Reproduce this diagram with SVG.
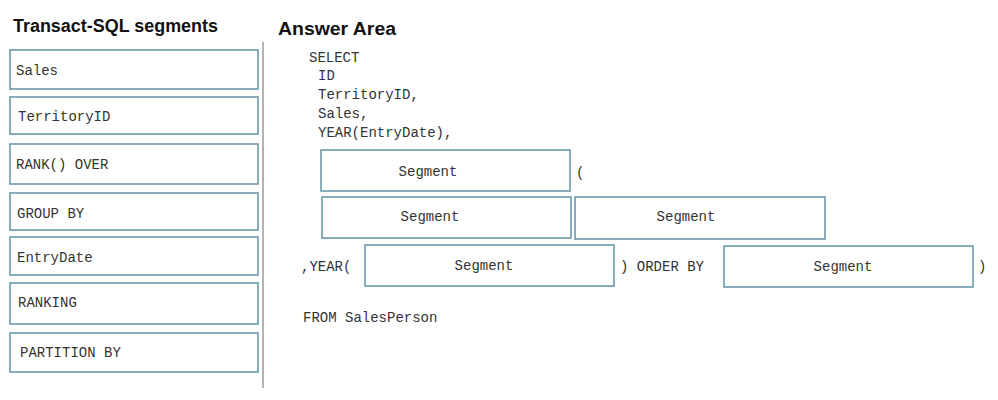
<svg xmlns="http://www.w3.org/2000/svg" width="998" height="400" viewBox="0 0 998 400">
<style>
.box{fill:#ffffff;stroke:#6b9aab;stroke-width:1.6}
.code{font-family:"Liberation Mono","Courier New",monospace;font-size:14px;fill:#333333}
.seg{font-family:"Liberation Mono","Courier New",monospace;font-size:14px;fill:#333333;text-anchor:middle}
.title{font-family:"Liberation Sans",Arial,sans-serif;font-size:18px;font-weight:bold;fill:#111111}
</style>
<rect width="998" height="400" fill="#ffffff"/>
<text class="title" x="13" y="32" textLength="205" lengthAdjust="spacingAndGlyphs">Transact-SQL segments</text>
<text class="title" x="278" y="35" textLength="118" lengthAdjust="spacingAndGlyphs">Answer Area</text>
<line x1="263" y1="42" x2="263" y2="388" stroke="#b4b4b4" stroke-width="2"/>
<g id="src-sales"><rect class="box" x="10" y="50" width="248" height="39"/><text class="code" x="16" y="75">Sales</text></g>
<g id="src-territoryid"><rect class="box" x="10" y="97" width="248" height="37"/><text class="code" x="18" y="121">TerritoryID</text></g>
<g id="src-rank"><rect class="box" x="10" y="144" width="248" height="40"/><text class="code" x="16" y="169">RANK() OVER</text></g>
<g id="src-groupby"><rect class="box" x="10" y="193" width="248" height="37"/><text class="code" x="17" y="218">GROUP BY</text></g>
<g id="src-entrydate"><rect class="box" x="10" y="237" width="248" height="38"/><text class="code" x="17" y="262">EntryDate</text></g>
<g id="src-ranking"><rect class="box" x="10" y="283" width="248" height="41"/><text class="code" x="18" y="307">RANKING</text></g>
<g id="src-partitionby"><rect class="box" x="10" y="333" width="248" height="39"/><text class="code" x="20" y="357">PARTITION BY</text></g>
<g id="query">
<text class="code" x="309" y="62">SELECT</text>
<text class="code" x="318" y="80">ID</text>
<text class="code" x="318" y="99">TerritoryID,</text>
<text class="code" x="318" y="118">Sales,</text>
<text class="code" x="318" y="137">YEAR(EntryDate),</text>
<text class="code" x="576" y="177">(</text>
<text class="code" x="301" y="271">,YEAR(</text>
<text class="code" x="620" y="271">) ORDER BY</text>
<text class="code" x="978" y="271">)</text>
<text class="code" x="303" y="322">FROM SalesPerson</text>
</g>
<g id="seg-a"><rect class="box" x="321" y="150" width="249" height="41"/><text class="seg" x="428" y="176">Segment</text></g>
<g id="seg-b"><rect class="box" x="322" y="197" width="249" height="41"/><text class="seg" x="430" y="221">Segment</text></g>
<g id="seg-c"><rect class="box" x="575" y="197" width="250" height="42"/><text class="seg" x="686" y="221">Segment</text></g>
<g id="seg-d"><rect class="box" x="365" y="245" width="249" height="41"/><text class="seg" x="484" y="270">Segment</text></g>
<g id="seg-e"><rect class="box" x="724" y="246" width="249" height="41"/><text class="seg" x="843" y="271">Segment</text></g>
<g id="connectors"></g>
</svg>
